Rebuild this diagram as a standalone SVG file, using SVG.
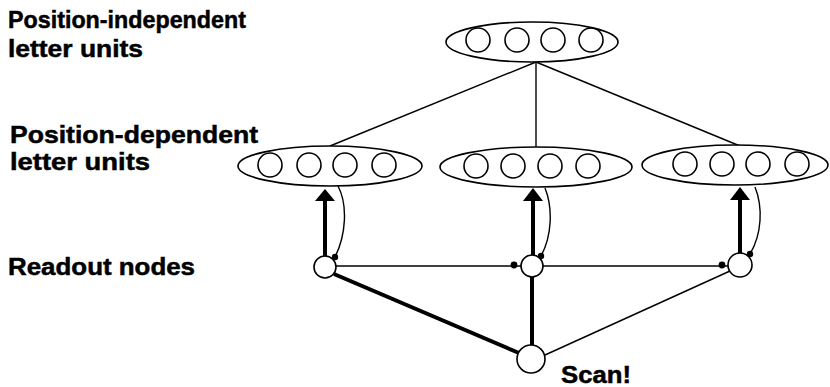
<svg xmlns="http://www.w3.org/2000/svg" width="830" height="387" viewBox="0 0 830 387">
  <style>
    .lbl { font-family: "Liberation Sans", Arial, sans-serif; font-weight: bold; fill: #000; stroke: #000; stroke-width: 0.5; }
    .pool { fill: #fff; stroke: #000; stroke-width: 1.6; }
    .unit { fill: none; stroke: #000; stroke-width: 1.6; }
    .node { fill: #fff; stroke: #000; stroke-width: 1.6; }
    .thin { stroke: #000; stroke-width: 1.4; fill: none; }
    .thick { stroke: #000; stroke-width: 4; fill: none; }
    .fb { stroke: #000; stroke-width: 1.4; fill: none; }
    .head { fill: #000; }
  </style>
  <rect width="830" height="387" fill="#fff"/>

  <!-- labels -->
  <text class="lbl" x="8" y="28" font-size="24" textLength="238" lengthAdjust="spacingAndGlyphs">Position-independent</text>
  <text class="lbl" x="8" y="57" font-size="24" textLength="135" lengthAdjust="spacingAndGlyphs">letter units</text>
  <text class="lbl" x="10" y="143" font-size="24.5" textLength="248" lengthAdjust="spacingAndGlyphs">Position-dependent</text>
  <text class="lbl" x="10" y="170" font-size="24.5" textLength="140" lengthAdjust="spacingAndGlyphs">letter units</text>
  <text class="lbl" x="8" y="275" font-size="24" textLength="187" lengthAdjust="spacingAndGlyphs">Readout nodes</text>
  <text class="lbl" x="561" y="383" font-size="24.5" textLength="70" lengthAdjust="spacingAndGlyphs">Scan!</text>

  <!-- connectors -->
  <g id="connectors">
    <line class="thin" x1="536" y1="62" x2="330" y2="146"/>
    <line class="thin" x1="536" y1="62" x2="536" y2="147"/>
    <line class="thin" x1="536" y1="62" x2="740" y2="146"/>
    <line class="thin" x1="336" y1="266" x2="521" y2="266"/>
    <line class="thin" x1="543" y1="266" x2="729" y2="266"/>
    <line class="thick" x1="334" y1="274" x2="519" y2="353"/>
    <line class="thick" x1="532" y1="277" x2="532" y2="346" stroke-width="3.5"/>
    <line class="thin" x1="730" y1="271" x2="545" y2="355"/>
    <!-- readout-to-pool arrows -->
    <line class="thick" x1="325" y1="256" x2="325" y2="199"/>
    <path class="head" d="M325,189 L335,201 L315,201 z"/>
    <line class="thick" x1="533" y1="255" x2="533" y2="199"/>
    <path class="head" d="M533,188 L543,201 L523,201 z"/>
    <line class="thick" x1="740" y1="254" x2="740" y2="198"/>
    <path class="head" d="M740,187 L750,200 L730,200 z"/>
    <!-- pool-to-readout feedback curves -->
    <path class="fb" d="M338,186 C348,205 346,235 335,257"/>
    <path class="fb" d="M545,188 C553,208 552,236 541,256"/>
    <path class="fb" d="M755,187 C763,207 762,234 750,254"/>
    <circle cx="335" cy="257" r="3.2" fill="#000"/>
    <circle cx="541" cy="256" r="3.2" fill="#000"/>
    <circle cx="750" cy="254" r="3.2" fill="#000"/>
    <circle cx="514" cy="265" r="3.4" fill="#000"/>
    <circle cx="722" cy="265" r="3.4" fill="#000"/>
  </g>

  <g id="top-pool">
    <ellipse class="pool" cx="532" cy="42" rx="86" ry="20"/>
    <circle class="unit" cx="478" cy="40" r="12"/>
    <circle class="unit" cx="517" cy="40" r="12"/>
    <circle class="unit" cx="553" cy="40" r="12"/>
    <circle class="unit" cx="591" cy="40" r="12"/>
  </g>
  <g id="pool-left">
    <ellipse class="pool" cx="330" cy="166" rx="92" ry="20"/>
    <circle class="unit" cx="270" cy="165" r="12"/>
    <circle class="unit" cx="309" cy="165" r="12"/>
    <circle class="unit" cx="345" cy="165" r="12"/>
    <circle class="unit" cx="384" cy="165" r="12"/>
  </g>
  <g id="pool-middle">
    <ellipse class="pool" cx="536" cy="167" rx="96" ry="20"/>
    <circle class="unit" cx="476" cy="166" r="12"/>
    <circle class="unit" cx="513" cy="166" r="12"/>
    <circle class="unit" cx="550" cy="166" r="12"/>
    <circle class="unit" cx="588" cy="166" r="12"/>
  </g>
  <g id="pool-right">
    <ellipse class="pool" cx="735" cy="165" rx="93" ry="20"/>
    <circle class="unit" cx="685" cy="164" r="12"/>
    <circle class="unit" cx="722" cy="164" r="12"/>
    <circle class="unit" cx="758" cy="164" r="12"/>
    <circle class="unit" cx="797" cy="164" r="12"/>
  </g>
  <g id="readout-left"><circle class="node" cx="325" cy="267" r="11"/></g>
  <g id="readout-middle"><circle class="node" cx="532" cy="266" r="11"/></g>
  <g id="readout-right"><circle class="node" cx="740" cy="265" r="12"/></g>
  <g id="scan"><circle class="node" cx="531" cy="359" r="14"/></g>
</svg>
